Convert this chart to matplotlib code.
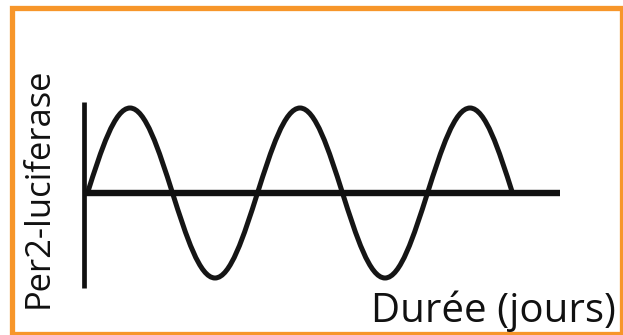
import matplotlib
matplotlib.use("Agg")
import matplotlib.pyplot as plt
from matplotlib.path import Path
from matplotlib.patches import PathPatch, Rectangle

# quarter-period points of the Per2 oscillation (days, relative level)
jours = [0, 0.25, 0.5, 0.75, 1.0, 1.25, 1.5, 1.75, 2.0, 2.25, 2.5]
per2 = [0, 1, 0, -1, 0, 1, 0, -1, 0, 1, 0]

axe_x = [-0.02, 2.78]   # extent of the time axis
axe_y = [1.07, -1.12]   # extent of the level axis

W, H = 623, 335
fig = plt.figure(figsize=(W / 100, H / 100), dpi=100)
fig.patch.set_facecolor("white")

# axes placed in pixels: x=0 at 87.5 px, 170 px per day; y=0 at 193 px, 85 px per unit
x0, sx, y0, sy = 87.5, 170.0, 193.0, 85.0
xl, yl = (-0.1, 3.0), (-1.3, 1.3)
left = (x0 + sx * xl[0]) / W
width = sx * (xl[1] - xl[0]) / W
bottom = (H - (y0 + sy * 1.3)) / H
height = sy * (yl[1] - yl[0]) / H
ax = fig.add_axes([left, bottom, width, height])
ax.set_xlim(*xl)
ax.set_ylim(*yl)
ax.axis("off")

# axes of the sketch
ax.plot(axe_x, [0, 0], color="#111111", lw=4.6, solid_capstyle="butt")
ax.plot([axe_x[0], axe_x[0]], axe_y, color="#111111", lw=3.4, solid_capstyle="butt")

# smooth sine-like curve: one cubic Bezier per quarter wave
verts = [(jours[0], per2[0])]
codes = [Path.MOVETO]
for i in range(1, len(jours)):
    xa, ya = jours[i - 1], per2[i - 1]
    xb, yb = jours[i], per2[i]
    dx = xb - xa
    if ya == 0:   # leaving the baseline: steep start, flat top
        c1 = (xa + 0.3261 * dx, ya + 0.5123 * (yb - ya))
        c2 = (xa + 0.6381 * dx, yb)
    else:         # returning to the baseline
        c1 = (xa + 0.3619 * dx, ya)
        c2 = (xa + 0.6739 * dx, ya + 0.4877 * (yb - ya))
    verts += [c1, c2, (xb, yb)]
    codes += [Path.CURVE4] * 3
ax.add_patch(PathPatch(Path(verts, codes), fill=False, ec="#151515", lw=3.6,
                       capstyle="round", joinstyle="round"))

# labels
fig.text(48 / W, 1 - 308 / H, "Per2-luciferase", family="Open Sans", fontsize=24.8,
         rotation=90, rotation_mode="anchor", ha="left", va="baseline", color="#111111")
fig.text(371 / W, 1 - 322 / H, "Durée (jours)", family="Open Sans", fontsize=29,
         ha="left", va="baseline", color="#111111")

# orange frame
fig.add_artist(Rectangle((12 / W, 1 - 333.5 / H), (621.5 - 12) / W, (333.5 - 7.5) / H,
                         transform=fig.transFigure, fill=False, ec="#F7962A", lw=3.8))

fig.savefig("out.png", dpi=100, facecolor="white")
